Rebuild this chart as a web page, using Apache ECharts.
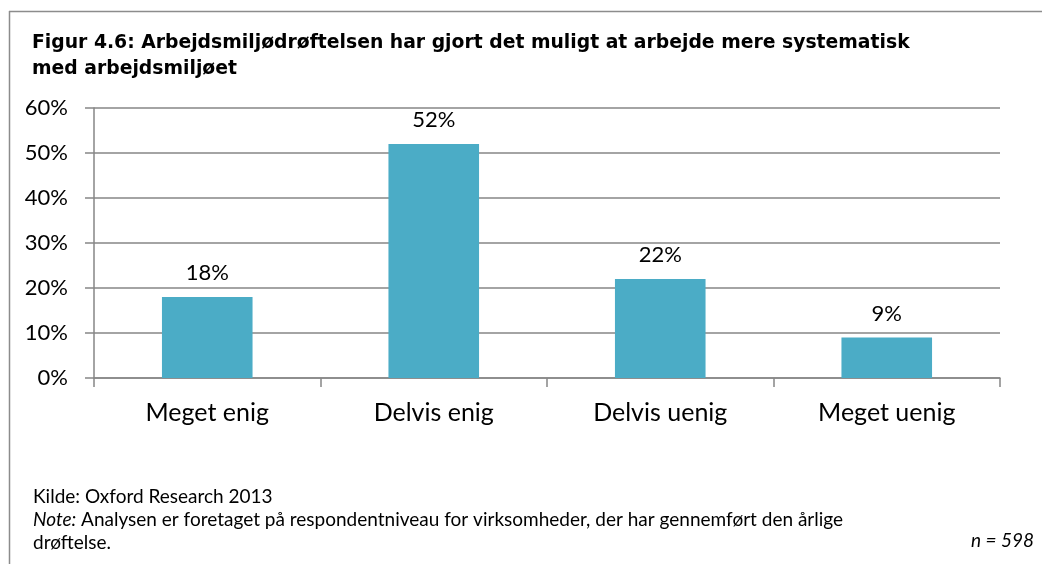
<!DOCTYPE html>
<html>
<head>
<meta charset="utf-8">
<script src="https://cdn.jsdelivr.net/npm/echarts@6/dist/echarts.min.js"></script>
<style>
html,body{margin:0;padding:0;background:#fff;}
#chart{width:1042px;height:564px;}
</style>
</head>
<body>
<div id="chart"></div>
<script>
const categories = ['Meget enig', 'Delvis enig', 'Delvis uenig', 'Meget uenig'];
const values = [18, 52, 22, 9];
const yTicks = [0, 10, 20, 30, 40, 50, 60];
const titleText = 'Figur 4.6: Arbejdsmiljødrøftelsen har gjort det muligt at arbejde mere systematisk\nmed arbejdsmiljøet';
const sourceText = 'Kilde: Oxford Research 2013';
const noteLabel = 'Note:';
const noteText = ' Analysen er foretaget på respondentniveau for virksomheder, der har gennemført den årlige';
const noteText2 = 'drøftelse.';
const nText = 'n = 598';

const chart = echarts.init(document.getElementById('chart'), null, {renderer: 'canvas'});
const font = 'Lato, "Open Sans", sans-serif';
const gray = '#868686';

chart.setOption({
  animation: false,
  backgroundColor: '#ffffff',
  title: {
    text: titleText,
    left: 27,
    top: 25,
    textStyle: {
      fontFamily: '"DejaVu Sans", Verdana, sans-serif',
      fontWeight: 'bold',
      fontSize: 18.8,
      lineHeight: 26,
      color: '#000'
    }
  },
  grid: { left: 94, right: 42, top: 108, bottom: 186, containLabel: false },
  xAxis: {
    type: 'category',
    data: categories,
    axisLine: { lineStyle: { color: gray, width: 1.5 } },
    axisTick: { show: true, length: 9, lineStyle: { color: gray, width: 1.5 } },
    axisLabel: { fontFamily: font, fontSize: 25, color: '#000', margin: 22 }
  },
  yAxis: {
    type: 'value',
    min: yTicks[0],
    max: yTicks[yTicks.length - 1],
    interval: 10,
    axisLine: { show: true, lineStyle: { color: gray, width: 1.5 } },
    axisTick: { show: true, length: 9, lineStyle: { color: gray, width: 1.5 } },
    splitLine: { lineStyle: { color: gray, width: 1.5 } },
    axisLabel: { fontFamily: font, fontSize: 22, color: '#000', margin: 26, formatter: '{value}%' }
  },
  series: [{
    type: 'bar',
    data: values,
    barWidth: '40%',
    itemStyle: { color: '#4BACC6' },
    label: {
      show: true,
      position: 'top',
      distance: 13,
      formatter: '{c}%',
      fontFamily: font,
      fontSize: 22,
      color: '#000'
    }
  }],
  graphic: [
    { type: 'line', shape: { x1: 9, y1: 11.5, x2: 1042, y2: 11.5 }, style: { stroke: '#8c8c8c', lineWidth: 1.5 } },
    { type: 'line', shape: { x1: 9.5, y1: 11, x2: 9.5, y2: 564 }, style: { stroke: '#8c8c8c', lineWidth: 1.5 } },
    { type: 'text', left: 33, top: 487, style: { text: sourceText, font: '19px Lato, sans-serif', fill: '#000' } },
    { type: 'text', left: 33, top: 510, style: {
        text: '{i|' + noteLabel + '}{n|' + noteText + '}',
        rich: {
          i: { font: 'italic 19px Lato, sans-serif', fill: '#000' },
          n: { font: '19px Lato, sans-serif', fill: '#000' }
        }
    } },
    { type: 'text', left: 33, top: 533, style: { text: noteText2, font: '19px Lato, sans-serif', fill: '#000' } },
    { type: 'text', left: 971, top: 531, style: { text: nText, font: 'italic 19px Lato, sans-serif', fill: '#000' } }
  ]
});
</script>
</body>
</html>
